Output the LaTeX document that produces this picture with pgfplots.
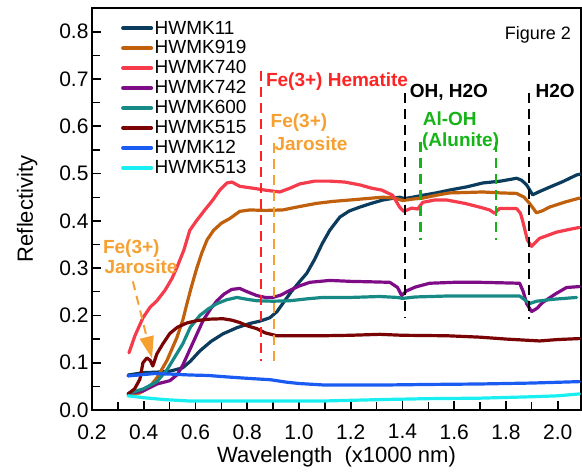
\documentclass[border=0pt]{standalone}
\usepackage{fontspec}
\setmainfont{Liberation Sans}
\usepackage{pgfplots}
\pgfplotsset{compat=1.18}
\usetikzlibrary{arrows.meta}

\definecolor{cA}{HTML}{0B3C5D}
\definecolor{cB}{HTML}{C0600C}
\definecolor{cC}{HTML}{F53B4C}
\definecolor{cD}{HTML}{7E0C86}
\definecolor{cE}{HTML}{178A85}
\definecolor{cF}{HTML}{7A0303}
\definecolor{cG}{HTML}{1A5CF2}
\definecolor{cH}{HTML}{19EFF0}
\definecolor{annred}{HTML}{FF2424}
\definecolor{annorange}{HTML}{F7A032}
\definecolor{anngreen}{HTML}{17B417}

\pgfplotstableread{
x y
0.340 0.074
0.400 0.079
0.450 0.080
0.500 0.082
0.550 0.089
0.580 0.103
0.617 0.125
0.660 0.145
0.706 0.161
0.760 0.174
0.810 0.183
0.850 0.188
0.887 0.195
0.915 0.208
0.937 0.225
0.970 0.250
1.000 0.270
1.030 0.289
1.060 0.318
1.090 0.352
1.119 0.380
1.158 0.408
1.195 0.421
1.235 0.429
1.280 0.437
1.324 0.444
1.389 0.450
1.408 0.447
1.440 0.450
1.478 0.454
1.530 0.459
1.582 0.465
1.650 0.472
1.710 0.480
1.780 0.484
1.841 0.490
1.860 0.486
1.880 0.476
1.903 0.455
1.930 0.462
1.968 0.471
2.020 0.483
2.073 0.497
2.090 0.499
}\tA

\pgfplotstableread{
x y
0.340 0.033
0.385 0.036
0.424 0.050
0.451 0.068
0.490 0.105
0.528 0.153
0.551 0.190
0.567 0.225
0.585 0.262
0.605 0.300
0.625 0.333
0.645 0.360
0.670 0.380
0.700 0.395
0.733 0.405
0.771 0.420
0.810 0.423
0.870 0.422
0.937 0.423
1.000 0.430
1.069 0.437
1.130 0.441
1.196 0.444
1.260 0.447
1.324 0.450
1.370 0.448
1.401 0.443
1.440 0.446
1.478 0.448
1.530 0.454
1.582 0.459
1.650 0.460
1.710 0.461
1.780 0.459
1.841 0.458
1.870 0.450
1.891 0.437
1.918 0.417
1.940 0.421
1.968 0.429
2.030 0.440
2.084 0.448
}\tB

\pgfplotstableread{
x y
0.343 0.121
0.366 0.157
0.397 0.195
0.424 0.217
0.451 0.231
0.482 0.253
0.509 0.278
0.528 0.301
0.555 0.338
0.578 0.380
0.605 0.401
0.636 0.423
0.667 0.444
0.694 0.465
0.721 0.480
0.741 0.482
0.771 0.473
0.822 0.469
0.868 0.465
0.926 0.461
0.965 0.469
1.003 0.478
1.061 0.484
1.119 0.484
1.177 0.482
1.235 0.476
1.281 0.469
1.320 0.465
1.362 0.454
1.389 0.429
1.405 0.420
1.436 0.427
1.459 0.425
1.478 0.439
1.524 0.444
1.571 0.444
1.640 0.437
1.698 0.429
1.737 0.423
1.756 0.416
1.775 0.426
1.841 0.426
1.856 0.416
1.864 0.401
1.883 0.359
1.899 0.346
1.930 0.363
1.995 0.376
2.046 0.382
2.084 0.386
}\tC

\pgfplotstableread{
x y
0.340 0.035
0.397 0.040
0.451 0.055
0.501 0.062
0.530 0.075
0.551 0.095
0.580 0.130
0.605 0.160
0.630 0.190
0.660 0.215
0.683 0.231
0.710 0.245
0.740 0.255
0.771 0.257
0.800 0.250
0.837 0.242
0.870 0.238
0.899 0.238
0.930 0.243
0.965 0.253
1.000 0.262
1.042 0.270
1.119 0.274
1.200 0.272
1.280 0.271
1.351 0.270
1.381 0.259
1.397 0.242
1.416 0.252
1.450 0.260
1.505 0.268
1.600 0.270
1.698 0.270
1.780 0.269
1.853 0.268
1.867 0.250
1.880 0.225
1.899 0.208
1.920 0.215
1.941 0.227
1.990 0.245
2.034 0.259
2.084 0.261
}\tD

\pgfplotstableread{
x y
0.340 0.035
0.400 0.045
0.451 0.060
0.490 0.085
0.520 0.112
0.551 0.140
0.580 0.175
0.617 0.200
0.650 0.214
0.683 0.225
0.720 0.233
0.760 0.238
0.800 0.234
0.837 0.231
0.900 0.230
0.965 0.231
1.030 0.235
1.092 0.238
1.200 0.238
1.312 0.240
1.380 0.238
1.401 0.236
1.450 0.239
1.571 0.241
1.700 0.241
1.853 0.241
1.875 0.232
1.891 0.225
1.918 0.230
1.980 0.234
2.073 0.238
}\tE

\pgfplotstableread{
x y
0.340 0.034
0.365 0.045
0.385 0.065
0.397 0.100
0.412 0.110
0.425 0.105
0.435 0.093
0.451 0.119
0.474 0.140
0.501 0.162
0.530 0.175
0.567 0.184
0.605 0.189
0.650 0.192
0.706 0.193
0.740 0.190
0.771 0.185
0.800 0.178
0.837 0.172
0.870 0.163
0.914 0.157
1.000 0.157
1.092 0.157
1.200 0.158
1.312 0.160
1.400 0.158
1.571 0.157
1.700 0.154
1.800 0.150
1.930 0.146
2.000 0.149
2.084 0.151
}\tF

\pgfplotstableread{
x y
0.339 0.072
0.380 0.074
0.440 0.077
0.500 0.076
0.578 0.074
0.650 0.073
0.720 0.070
0.800 0.067
0.890 0.064
0.950 0.059
1.000 0.056
1.092 0.053
1.200 0.053
1.351 0.053
1.500 0.054
1.698 0.055
1.900 0.057
2.084 0.060
}\tG

\pgfplotstableread{
x y
0.339 0.030
0.400 0.026
0.480 0.022
0.578 0.019
0.700 0.019
0.900 0.019
1.092 0.019
1.312 0.022
1.500 0.024
1.698 0.025
1.900 0.028
2.000 0.030
2.084 0.034
}\tH

\begin{document}
\begin{tikzpicture}
\begin{axis}[
  scale only axis, width=489pt, height=402pt,
  xmin=0.2, xmax=2.09, ymin=0, ymax=0.85,
  xtick={0.2,0.4,0.6,0.8,1.0,1.2,1.4,1.6,1.8,2.0},
  ytick={0,0.1,0.2,0.3,0.4,0.5,0.6,0.7,0.8},
  minor x tick num=1, minor y tick num=1,
  tick pos=left, tick align=inside,
  major tick length=9pt, minor tick length=8pt,
  major tick style={line width=1.8pt, black},
  minor tick style={line width=1.3pt, black},
  axis line style={line width=1.6pt},
  /pgf/number format/assume math mode=true,
  xticklabel style={/pgf/number format/.cd, fixed, fixed zerofill, precision=1},
  yticklabel style={/pgf/number format/.cd, fixed, fixed zerofill, precision=1},
  xticklabel shift=11pt,
  tick label style={font=\fontsize{21}{24}\selectfont},
  label style={font=\fontsize{22}{25}\selectfont},
  xlabel={Wavelength\ \ (x1000 nm)},
  ylabel={Reflectivity},
  ylabel shift=15pt,
  legend style={draw=none, fill=none, at={(axis description cs:0.053,0.977)}, anchor=north west,
    font=\fontsize{19}{21}\selectfont, row sep=2.2pt, nodes={inner sep=1.5pt},
    /tikz/every even column/.append style={column sep=0pt}},
  legend cell align=left,
  legend image code/.code={\draw[#1, line width=4pt] (0pt,0pt) -- (28pt,0pt);},
  every axis plot/.append style={line width=3.2pt, line join=round, line cap=round},
]
\addplot[cA] table {\tA}; \addlegendentry{HWMK11}
\addplot[cB] table {\tB}; \addlegendentry{HWMK919}
\addplot[cC] table {\tC}; \addlegendentry{HWMK740}
\addplot[cD] table {\tD}; \addlegendentry{HWMK742}
\addplot[cE] table {\tE}; \addlegendentry{HWMK600}
\addplot[cF] table {\tF}; \addlegendentry{HWMK515}
\addplot[cG] table {\tG}; \addlegendentry{HWMK12}
\addplot[cH] table {\tH}; \addlegendentry{HWMK513}

\tikzset{ann/.style={line width=2.2pt, dash pattern=on 10pt off 6pt}}
\draw[annred, ann] (axis cs:0.853,0.716) -- (axis cs:0.853,0.104);
\draw[annorange, ann] (axis cs:0.903,0.565) -- (axis cs:0.903,0.104);
\draw[black, ann] (axis cs:1.41,0.671) -- (axis cs:1.41,0.195);
\draw[black, ann] (axis cs:1.89,0.671) -- (axis cs:1.89,0.193);
\draw[anngreen, ann] (axis cs:1.47,0.567) -- (axis cs:1.47,0.359);
\draw[anngreen, ann] (axis cs:1.76,0.567) -- (axis cs:1.76,0.359);
\draw[annorange, line width=2pt, dash pattern=on 9pt off 6pt, -{Triangle[length=22pt,width=14pt]}]
  (axis cs:0.358,0.272) -- (axis cs:0.432,0.109);

\tikzset{lab/.style={anchor=base west, inner sep=0pt, font=\bfseries\fontsize{19}{21}\selectfont}}
\node[lab, text=annred] at (axis cs:0.872,0.684) {Fe(3+) Hematite};
\node[lab, text=annorange] at (axis cs:0.890,0.597) {Fe(3+)};
\node[lab, text=annorange] at (axis cs:0.905,0.548) {Jarosite};
\node[lab, text=black] at (axis cs:1.428,0.660) {OH, H2O};
\node[lab, text=black] at (axis cs:1.914,0.660) {H2O};
\node[lab, text=anngreen] at (axis cs:1.478,0.601) {Al-OH};
\node[lab, text=anngreen] at (axis cs:1.475,0.558) {(Alunite)};
\node[lab, text=annorange] at (axis cs:0.242,0.331) {Fe(3+)};
\node[lab, text=annorange] at (axis cs:0.248,0.289) {Jarosite};
\node[anchor=base west, inner sep=0pt, font=\fontsize{18}{21}\selectfont] at (axis cs:1.795,0.783) {Figure 2};
\end{axis}
\pgfresetboundingbox
\path (-92pt,-65pt) rectangle (490pt,410pt);
\end{tikzpicture}
\end{document}
